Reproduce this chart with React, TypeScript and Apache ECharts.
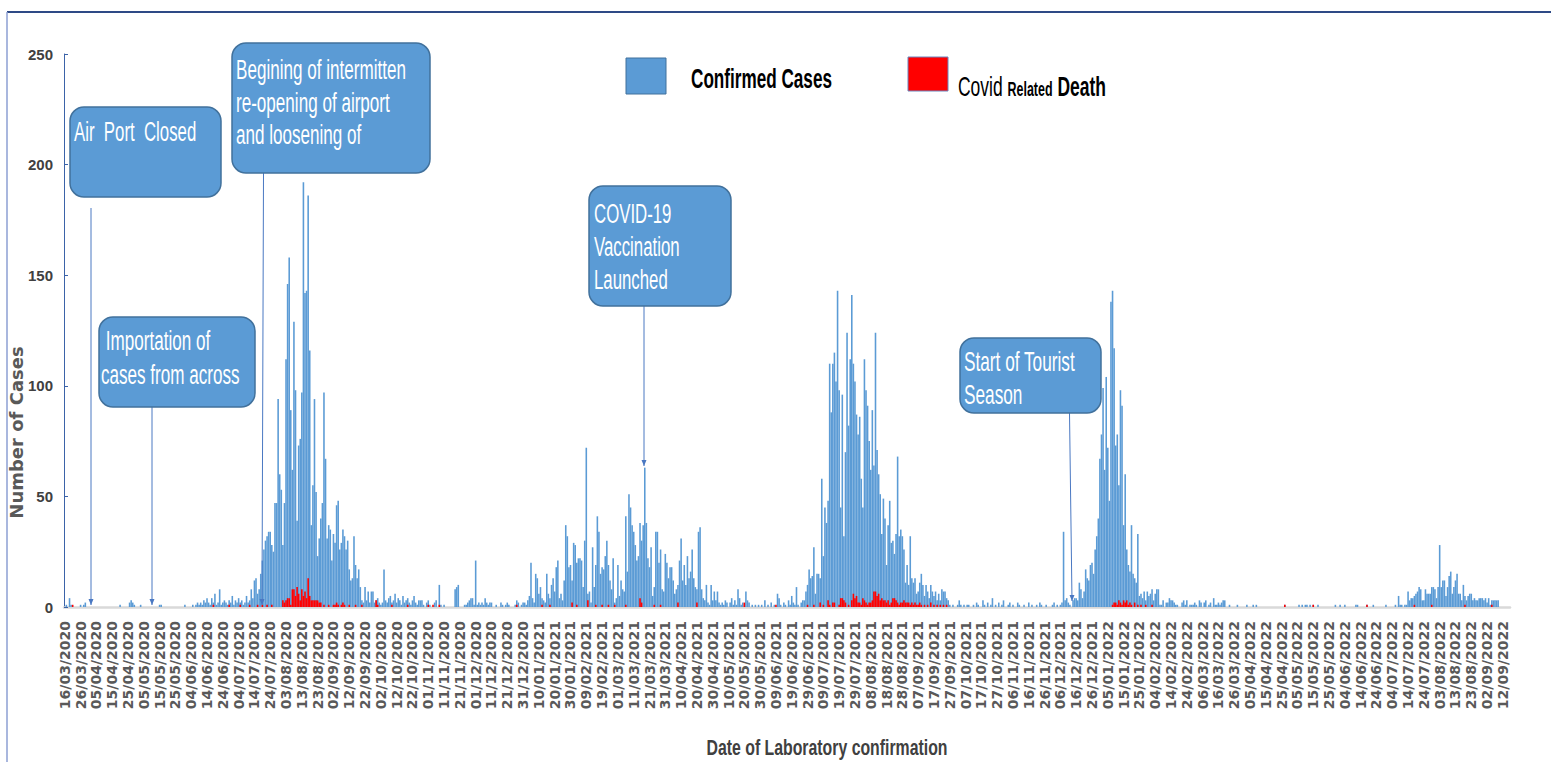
import React, { useEffect, useRef } from "react";
import * as echarts from "echarts";

// ---------- DATA ----------
// First day of the series (day 0) and number of days on the category axis
const START_DATE = "16/03/2020";
const DAY_COUNT = 915;

// Daily confirmed cases, by period (each array continues the previous one)
// 16/03/2020 - 14/07/2020
const casesEarly2020 = [
  0, 1, 0, 4, 1, 0, 0, 0, 0, 0,
  1, 0, 1, 2, 0, 0, 0, 0, 0, 0,
  0, 0, 0, 0, 0, 0, 0, 0, 0, 0,
  0, 0, 0, 0, 0, 1, 0, 0, 0, 0,
  0, 2, 3, 2, 1, 0, 0, 0, 1, 0,
  0, 0, 0, 0, 0, 0, 0, 0, 0, 0,
  1, 1, 0, 0, 0, 0, 0, 0, 0, 0,
  0, 0, 0, 0, 0, 0, 1, 0, 0, 0,
  0, 1, 0, 1, 2, 1, 2, 1, 3, 2,
  4, 2, 1, 4, 2, 6, 1, 2, 8, 1,
  2, 3, 2, 1, 3, 2, 5, 1, 3, 2,
  4, 2, 3, 1, 2, 5, 2, 3, 8, 4,
  12,
];
// 15/07/2020 - 07/10/2020 (first wave)
const casesWave1 = [
  13, 6, 8, 15, 21, 26, 30, 32, 34, 34,
  28, 25, 47, 47, 94, 60, 53, 28, 47, 112,
  146, 158, 89, 62, 129, 98, 39, 73, 76, 97,
  192, 142, 143, 186, 116, 37, 55, 94, 52, 23,
  31, 40, 47, 97, 67, 31, 37, 35, 21, 33,
  29, 46, 48, 26, 29, 35, 32, 26, 30, 17,
  12, 13, 32, 19, 13, 17, 9, 3, 2, 9,
  3, 7, 2, 7, 7, 2, 3, 4, 2, 1,
  2, 17, 3, 2, 4,
];
// 08/10/2020 - 31/12/2020
const casesLate2020 = [
  5, 2, 3, 6, 2, 4, 3, 1, 5, 2, 3, 4, 2, 1, 3, 5, 2, 1, 3,
  3, 3, 1, 0, 2, 3, 1, 0, 0, 2,
  3, 0, 10, 1, 0, 1, 0, 0, 0, 0,
  0, 0, 8, 9, 10, 0, 0, 0, 1, 1,
  2, 3, 4, 4, 1, 21, 1, 2, 1, 2,
  1, 4, 2, 1, 2, 2, 0, 0, 1, 0,
  0, 2, 1, 0, 1, 2, 1, 0, 0, 0,
  1, 3, 2, 0, 1, 2,
];
// 01/01/2021 - 18/06/2021 (second wave)
const casesWave2 = [
  2, 1, 3, 5, 20, 4, 2, 15, 13, 6,
  9, 4, 3, 2, 15, 6, 4, 10, 13, 7,
  18, 21, 4, 6, 3, 12, 37, 32, 18, 19,
  12, 29, 28, 20, 22, 22, 21, 9, 30, 72,
  6, 7, 2, 27, 9, 19, 41, 34, 15, 18,
  17, 23, 30, 19, 12, 8, 22, 2, 4, 19,
  5, 12, 8, 7, 41, 16, 51, 45, 37, 34,
  28, 21, 23, 38, 30, 37, 63, 38, 22, 18,
  27, 5, 9, 34, 34, 20, 26, 8, 7, 24,
  20, 13, 18, 18, 12, 6, 8, 10, 21, 31,
  12, 19, 10, 23, 13, 16, 26, 13, 9, 8,
  34, 36, 8, 4, 3, 10, 2, 1, 10, 3,
  7, 3, 7, 2, 1, 2, 1, 3, 2, 0,
  2, 4, 1, 3, 1, 8, 4, 1, 2, 0,
  7, 3, 2, 0, 1, 0, 1, 0, 1, 0,
  1, 0, 3, 0, 1, 0, 2, 0, 1, 0,
  6, 4, 1, 0, 2, 1, 0, 3, 1,
];
// 19/06/2021 - 10/10/2021 (third wave)
const casesWave3 = [
  5, 2, 1, 9, 1, 0, 2, 3, 3, 7,
  10, 17, 13, 14, 27, 6, 15, 15, 13, 58,
  23, 45, 38, 48, 110, 88, 110, 115, 102, 143,
  98, 45, 96, 32, 70, 124, 82, 112, 141, 110,
  102, 87, 78, 86, 58, 45, 112, 98, 91, 75,
  62, 89, 64, 124, 71, 60, 51, 33, 49, 40,
  19, 37, 48, 29, 30, 24, 33, 68, 32, 35,
  32, 26, 11, 19, 10, 32, 13, 11, 13, 6,
  7, 11, 15, 10, 5, 10, 7, 4, 10, 7,
  5, 7, 3, 6, 3, 8, 7, 7, 4, 3,
  1, 0, 1, 0, 0, 1, 3, 1, 0, 1,
  0, 1, 1, 0,
];
// 11/10/2021 - 07/12/2021
const casesLate2021 = [
  0, 1, 0, 2, 1, 0, 0, 3, 1, 0,
  2, 0, 1, 4, 0, 1, 0, 2, 0, 1,
  3, 0, 0, 1, 2, 0, 1, 0, 0, 2,
  1, 0, 0, 1, 0, 0, 2, 0, 1, 0,
  0, 1, 0, 2, 1, 0, 0, 1, 0, 0,
  0, 1, 2, 0, 1, 0, 1, 2,
];
// 08/12/2021 - 01/02/2022 (tourist season wave)
const casesWave4 = [
  34, 3, 4, 2, 1, 0, 3, 4, 4, 3,
  11, 8, 4, 7, 17, 13, 12, 19, 20, 15,
  26, 32, 40, 67, 78, 99, 62, 104, 72, 48,
  138, 143, 117, 73, 78, 55, 98, 91, 37, 60,
  26, 19, 16, 37, 15, 13, 11, 33, 5, 6,
  4, 7, 3, 7, 5, 6,
];
// 02/02/2022 - 09/09/2022
const cases2022 = [
  8, 3, 6, 8, 8, 1, 1, 3, 0, 2,
  2, 4, 3, 3, 2, 1, 1, 0, 0, 2,
  3, 1, 3, 0, 1, 1, 1, 2, 1, 0,
  3, 2, 0, 2, 3, 0, 1, 2, 0, 4,
  1, 1, 2, 1, 2, 3, 3, 0, 0, 1,
  0, 0, 0, 0, 1, 0, 0, 0, 0, 0,
  1, 0, 0, 0, 1, 0, 1, 0, 0, 0,
  0, 0, 0, 0, 0, 0, 0, 0, 0, 0,
  0, 0, 0, 0, 1, 0, 0, 0, 0, 0,
  0, 0, 0, 1, 0, 1, 0, 1, 1, 0,
  1, 0, 1, 0, 0, 1, 0, 0, 0, 0,
  0, 0, 0, 0, 0, 0, 1, 0, 0, 1,
  0, 0, 1, 0, 0, 0, 0, 0, 0, 1,
  1, 0, 0, 0, 0, 0, 1, 0, 0, 0,
  1, 0, 0, 0, 0, 0, 0, 0, 1, 0,
  0, 0, 0, 0, 1, 0, 5, 1, 1, 0,
  1, 1, 7, 3, 4, 4, 5, 6, 7, 9,
  8, 3, 3, 8, 6, 6, 6, 9, 9, 8,
  4, 9, 28, 9, 12, 12, 5, 9, 14, 16,
  6, 9, 12, 15, 6, 6, 3, 10, 5, 3,
  5, 6, 6, 3, 4, 3, 3, 4, 4, 4,
  3, 4, 2, 4, 1, 3, 3, 3, 3, 3,
];

// Covid related deaths: [day number since 16/03/2020, deaths]
const deaths2020 = [
  [5, 1], [94, 1], [104, 1], [111, 1], [117, 1], [122, 1], [125, 1], [128, 1], [131, 1],
  [138, 3], [139, 2], [140, 3], [141, 4], [142, 4], [143, 1], [144, 8], [145, 8], [146, 5],
  [147, 9], [148, 6], [149, 3], [150, 8], [151, 5], [152, 7], [153, 4], [154, 13], [155, 5],
  [156, 3], [157, 3], [158, 3], [159, 3], [160, 3], [161, 2], [162, 2], [164, 1], [167, 1],
  [170, 1], [171, 1], [172, 2], [173, 1], [175, 1], [176, 2], [177, 1], [180, 1], [184, 1],
  [188, 1], [197, 3], [198, 1], [207, 1], [217, 1], [230, 1], [233, 1], [237, 1], [286, 1],
];
const deaths2021 = [
  [302, 1], [307, 1], [321, 2], [324, 1], [331, 3], [336, 1], [340, 1], [344, 1], [348, 1],
  [355, 1], [364, 4], [365, 2], [373, 1], [377, 1], [388, 2], [400, 2], [430, 2], [450, 1],
  [470, 1], [474, 1], [478, 2], [480, 1], [483, 3], [484, 1], [486, 2], [487, 2], [490, 1],
  [491, 4], [492, 4], [493, 3], [494, 2], [496, 1], [498, 3], [499, 6], [500, 4], [501, 5],
  [502, 2], [503, 2], [504, 1], [505, 4], [506, 3], [507, 2], [508, 1], [509, 2], [510, 2],
  [511, 3], [512, 7], [513, 7], [514, 5], [515, 6], [516, 3], [517, 4], [518, 3], [519, 3],
  [520, 2], [521, 3], [522, 1], [523, 2], [524, 4], [525, 4], [526, 3], [527, 2], [528, 1],
  [529, 2], [530, 2], [531, 3], [532, 2], [533, 2], [534, 2], [535, 1], [536, 2], [537, 1],
  [538, 2], [539, 1], [540, 1], [541, 2], [542, 1], [544, 1], [546, 1], [548, 2], [550, 1],
  [552, 1], [554, 1], [556, 1], [558, 1],
];
const deaths2022 = [
  [663, 1], [664, 2], [665, 2], [666, 1], [667, 3], [668, 2], [669, 1], [670, 3], [671, 2],
  [672, 3], [673, 1], [674, 2], [675, 1], [677, 2], [679, 1], [681, 1], [684, 1], [688, 1],
  [772, 1], [790, 1], [824, 1], [854, 1], [865, 1], [886, 1], [903, 1],
];

// Y axis ticks
const Y_MAX = 250;
const Y_STEP = 50;

// Annotations and titles
const annotations = [
  { lines: ["Air  Port  Closed"] },
  { lines: ["Begining of intermitten", "re-opening of airport", "and loosening of"] },
  { lines: [" Importation of", "cases from across"] },
  { lines: ["COVID-19", "Vaccination", "Launched"] },
  { lines: ["Start of Tourist", "Season"] },
];
const legendNames = ["Confirmed Cases", "Covid Related Death"];
const X_TITLE = "Date of Laboratory confirmation";
const Y_TITLE = "Number of Cases";

// ---------- HELPERS ----------
function buildDates(): string[] {
  const [d, m, y] = START_DATE.split("/").map(Number);
  const t0 = Date.UTC(y, m - 1, d);
  const out: string[] = [];
  const p = (n: number) => (n < 10 ? "0" + n : "" + n);
  for (let i = 0; i < DAY_COUNT; i++) {
    const t = new Date(t0 + i * 86400000);
    out.push(`${p(t.getUTCDate())}/${p(t.getUTCMonth() + 1)}/${t.getUTCFullYear()}`);
  }
  return out;
}

const BLUE = "#5B9BD5";
const BOX_STROKE = "#41719C";
const LINE_BLUE = "#4A78C2";
const SANS = '"Liberation Sans", Arial, sans-serif';

function boxGraphic(
  x: number, y: number, w: number, h: number,
  lines: string[], tx: number, ty: number[], sx: number
) {
  const els: any[] = [
    {
      type: "rect",
      shape: { x, y, width: w, height: h, r: 14 },
      style: { fill: BLUE, stroke: BOX_STROKE, lineWidth: 1.5 },
      z: 10,
    },
  ];
  lines.forEach((ln, i) => {
    els.push({
      type: "text",
      x: tx,
      y: ty[i],
      scaleX: sx,
      z: 11,
      style: {
        text: ln,
        fill: "#FFFFFF",
        fontSize: 28,
        fontFamily: SANS,
        align: "left",
        verticalAlign: "middle",
      },
    });
  });
  return els;
}

function connector(x1: number, y1: number, x2: number, y2: number) {
  return [
    {
      type: "line",
      shape: { x1, y1, x2, y2 },
      style: { stroke: LINE_BLUE, lineWidth: 1 },
      z: 9,
    },
    {
      type: "polygon",
      shape: { points: [[x2 - 2.5, y2 - 6], [x2 + 2.5, y2 - 6], [x2, y2]] },
      style: { fill: LINE_BLUE },
      z: 9,
    },
  ];
}

export default function App() {
  const ref = useRef<HTMLDivElement>(null);

  useEffect(() => {
    if (!ref.current) return;
    const chart = echarts.init(ref.current, undefined, { renderer: "svg" });

    const dates = buildDates();
    const cases = [
      ...casesEarly2020, ...casesWave1, ...casesLate2020, ...casesWave2,
      ...casesWave3, ...casesLate2021, ...casesWave4, ...cases2022,
    ];
    const deaths: (number | null)[] = new Array(DAY_COUNT).fill(null);
    [...deaths2020, ...deaths2021, ...deaths2022].forEach(([d, v]) => {
      deaths[d] = v;
    });

    const graphic: any[] = [
      // outer frame
      { type: "line", shape: { x1: 7, y1: 12, x2: 1551, y2: 12 }, style: { stroke: "#2E4A86", lineWidth: 2 } },
      { type: "line", shape: { x1: 7, y1: 12, x2: 7, y2: 762 }, style: { stroke: "#8C9FD3", lineWidth: 1.5 } },
      // connectors
      ...connector(91, 208, 91, 605),
      ...connector(152, 406, 152, 605),
      ...connector(263.5, 173, 262, 605),
      ...connector(644, 306, 644, 466),
      ...connector(1069.5, 413, 1072, 601),
      // boxes
      ...boxGraphic(70, 107, 151, 90, annotations[0].lines, 74, [131], 0.6),
      ...boxGraphic(232, 43, 198, 130, annotations[1].lines, 236, [69, 102, 134], 0.61),
      ...boxGraphic(99, 317, 156, 90, annotations[2].lines, 101, [340, 374], 0.61),
      ...boxGraphic(589, 186, 142, 120, annotations[3].lines, 594, [213, 246, 279], 0.6),
      ...boxGraphic(960, 338, 141, 75, annotations[4].lines, 964, [361, 394], 0.615),
      // legend
      {
        type: "rect",
        shape: { x: 626, y: 58, width: 40, height: 36 },
        style: { fill: BLUE, stroke: BOX_STROKE, lineWidth: 1 },
      },
      {
        type: "text",
        x: 691,
        y: 79,
        scaleX: 0.635,
        style: {
          text: legendNames[0],
          fill: "#000000",
          fontSize: 27,
          fontWeight: "bold",
          fontFamily: SANS,
          verticalAlign: "middle",
        },
      },
      {
        type: "rect",
        shape: { x: 908, y: 57, width: 40, height: 34 },
        style: { fill: "#FF0000", stroke: "#6A86BE", lineWidth: 1 },
      },
      {
        type: "text",
        x: 958,
        y: 86,
        scaleX: 0.624,
        style: {
          text: "{a|Covid }{b|Related}{c| Death}",
          fill: "#000000",
          fontFamily: SANS,
          verticalAlign: "middle",
          rich: {
            a: { fontSize: 28, fontFamily: SANS, fill: "#000", verticalAlign: "bottom" },
            b: { fontSize: 20, fontWeight: "bold", fontFamily: SANS, fill: "#000", verticalAlign: "bottom", padding: [0, 0, 1, 0] },
            c: { fontSize: 28, fontWeight: "bold", fontFamily: SANS, fill: "#000", verticalAlign: "bottom" },
          },
        },
      },
      // x axis title (condensed like the original)
      {
        type: "text",
        x: 827,
        y: 748,
        scaleX: 0.72,
        style: {
          text: X_TITLE,
          fill: "#404040",
          fontSize: 22,
          fontWeight: "bold",
          fontFamily: SANS,
          align: "center",
          verticalAlign: "middle",
        },
      },
    ];

    chart.setOption({
      animation: false,
      backgroundColor: "#FFFFFF",
      grid: { left: 64, right: 41, top: 54, bottom: 155, containLabel: false, outerBoundsMode: "none" },
      xAxis: {
        type: "category",
        data: dates,
        boundaryGap: true,
        axisLine: { show: true, lineStyle: { color: "#D9D9D9", width: 2.5 } },
        axisTick: { show: false },
        axisLabel: {
          interval: 9,
          rotate: 90,
          margin: 14,
          fontFamily: '"DejaVu Sans", sans-serif',
          fontWeight: "bold",
          fontSize: 14,
          color: "#595959",
        },
        splitLine: { show: false },
      },
      yAxis: {
        type: "value",
        min: 0,
        max: Y_MAX,
        interval: Y_STEP,
        name: Y_TITLE,
        nameLocation: "middle",
        nameRotate: 90,
        nameGap: 39,
        nameMoveOverlap: false,
        nameTextStyle: {
          fontFamily: '"DejaVu Sans", sans-serif',
          fontWeight: "bold",
          fontSize: 18,
          color: "#595959",
          padding: [0, 204, 0, 0],
        },
        axisLine: { show: true, lineStyle: { color: "#3B63A8", width: 1 } },
        axisTick: { show: true, inside: true, length: 4, lineStyle: { color: "#3B63A8" } },
        axisLabel: {
          margin: 11,
          fontFamily: SANS,
          fontWeight: "bold",
          fontSize: 15,
          color: "#404040",
        },
        splitLine: { show: false },
      },
      series: [
        {
          name: legendNames[0],
          type: "bar",
          data: cases,
          barCategoryGap: "0%",
          barGap: "-100%",
          itemStyle: { color: BLUE },
          z: 2,
        },
        {
          name: legendNames[1],
          type: "bar",
          data: deaths,
          barCategoryGap: "0%",
          barGap: "-100%",
          itemStyle: { color: "#FF0000" },
          z: 3,
        },
      ],
      graphic,
    });

    return () => chart.dispose();
  }, []);

  return (
    <div
      ref={ref}
      style={{ position: "fixed", left: 0, top: 0, width: 1551, height: 762, background: "#fff" }}
    />
  );
}
